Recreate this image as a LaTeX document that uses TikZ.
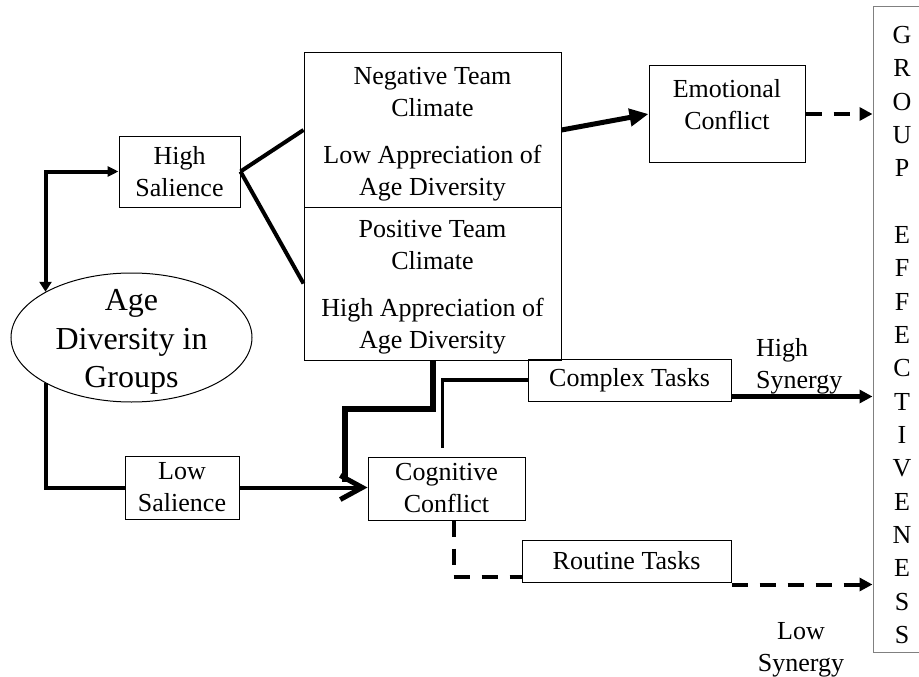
\documentclass[tikz,border=0pt]{standalone}
\usepackage{fontspec}
\setmainfont{Liberation Serif}
\usetikzlibrary{arrows.meta,shapes.geometric,calc}
\begin{document}
\begin{tikzpicture}[x=1pt,y=-1pt,
  every node/.style={font=\fontsize{26}{32}\selectfont, inner sep=0pt},
  box/.style={draw, line width=1pt, rectangle, inner sep=0pt},
  conn/.style={line width=4pt},
  dsh/.style={line width=4pt, dash pattern=on 16pt off 12pt},
  tip/.style={-{Triangle[length=13pt,width=13pt]}},
]
\useasboundingbox (0,0) rectangle (919,677);
\clip (0,0) rectangle (919,677);

% boxes
\node[box, minimum width=121pt, minimum height=71pt, align=center] (hs) at (179.5,171.5) {High\\Salience};
\node[box, minimum width=114pt, minimum height=63pt, align=center] (low) at (182,487.5) {Low\\Salience};
\node[box, minimum width=257pt, minimum height=154pt] (neg) at (432.5,130) {};
\node[box, minimum width=257pt, minimum height=153pt] (pos) at (432.5,283.5) {};
\node[align=center] (negtxt) at (432.5,134) {Negative Team\\Climate\\[15pt]Low Appreciation of\\Age Diversity};
\node[align=center] (postxt) at (432.5,287) {Positive Team\\Climate\\[15pt]High Appreciation of\\Age Diversity};
\node[box, minimum width=156pt, minimum height=96pt] (emo) at (727,114) {};
\node[align=center] (emotxt) at (727,105) {Emotional\\Conflict};
\node[box, minimum width=157pt, minimum height=63pt, align=center] (cog) at (446.5,488.5) {Cognitive\\Conflict};
\node[box, minimum width=203pt, minimum height=42pt] (cx) at (629.5,380) {Complex Tasks};
\node[box, minimum width=209pt, minimum height=42pt] (rt) at (626.5,561) {Routine Tasks};
\node[draw, line width=1pt, ellipse, minimum width=241pt, minimum height=129pt, inner sep=0pt] (ad) at (131.5,337.5) {};
\node[align=center, font=\fontsize{32}{38.5}\selectfont] (adtxt) at (131.5,342) {Age\\Diversity in\\Groups};
\node[draw=gray, line width=1pt, minimum width=58pt, minimum height=645pt] (ge) at (902,329.5) {};
\node[align=center, font=\fontsize{26}{33.33}\selectfont] (getxt) at (902,335) {G\\R\\O\\U\\P\\[33.33pt]E\\F\\F\\E\\C\\T\\I\\V\\E\\N\\E\\S\\S};

% labels
\node[align=left, anchor=west] (hsyn) at (756,366) {High\\Synergy};
\node[align=center] (lsyn) at (801,650) {Low\\Synergy};

% coordinates
\coordinate (tk) at (345,482);
\coordinate (c1) at ($(cx.south east)+(0,-5)$);
\coordinate (r1) at ($(rt.south east)+(0,2)$);
\coordinate (cg1) at ($(cog.north)+(-4,-9)$);
\coordinate (cg2) at ($(cog.south)+(7,0)$);
\coordinate (rt1) at ($(rt.south west)+(0,-6)$);

% connectors
\draw[conn, {Triangle[length=10pt,width=12pt]}-{Triangle[length=11pt,width=10pt]}] (ad.152) |- (hs.west);
\draw[conn] (ad.208) |- (low.west);
\draw[conn] (hs.east) -- (neg.west);
\draw[conn] (hs.east) -- (pos.west);
\draw[line width=5pt, -{Triangle[length=19pt,width=17pt]}] (neg.east) -- (emo.west);
\draw[dsh, tip] (emo.east) -- (emo.east -| ge.west);
\draw[line width=6pt] (pos.south) -- ++(0,48) -| (tk);
\draw[conn, -{Straight Barb[length=22pt,width=24pt,line width=5pt]}] (low.east) -- (low.east -| cog.west);
\draw[line width=3.5pt] (cg1) |- (cx.west);
\draw[line width=4.5pt, tip] (c1) -- (c1 -| ge.west);
\draw[dsh] (cg2) |- (rt1);
\draw[dsh, tip] (r1) -- (r1 -| ge.west);
\end{tikzpicture}
\end{document}
